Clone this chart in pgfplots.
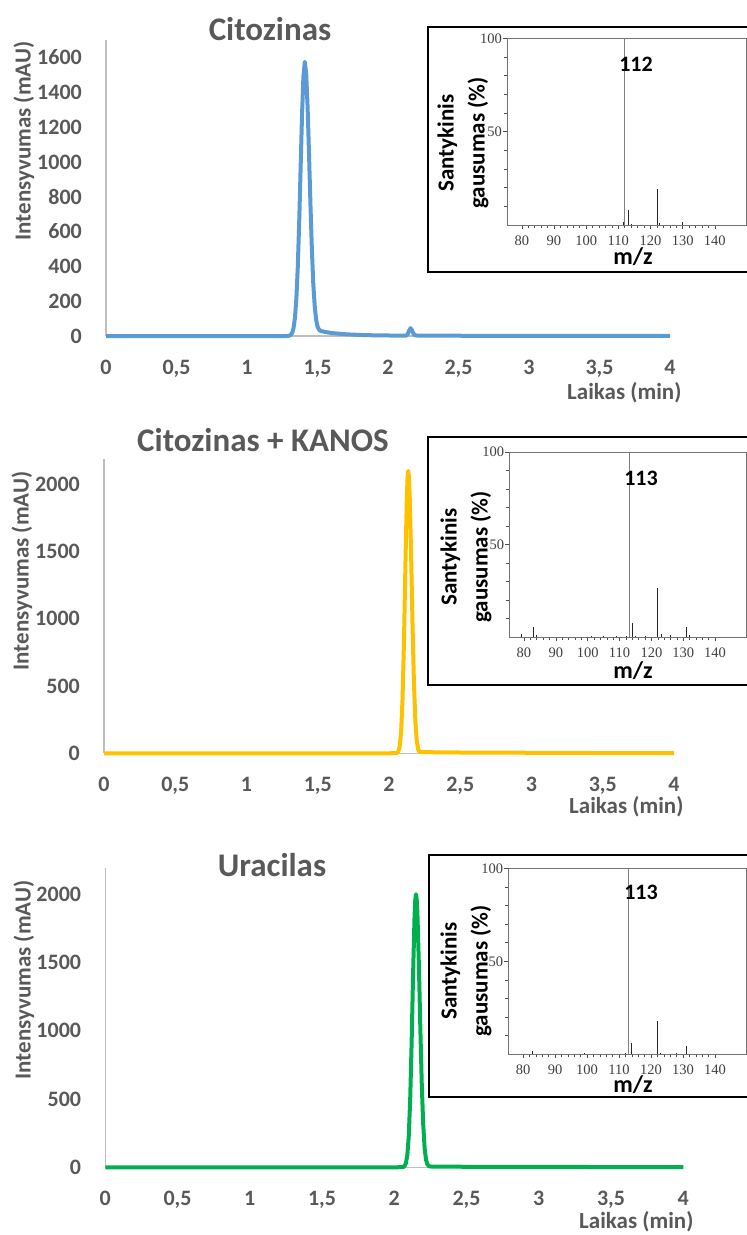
\documentclass[border=0pt]{standalone}
\usepackage{pgfplots}
\pgfplotsset{compat=1.18}
\usepackage{fontspec}
\setmainfont{Carlito}
\newfontfamily\serifft{Liberation Serif}
\definecolor{txtgray}{HTML}{595959}
\definecolor{axgray}{HTML}{BFBFBF}
\definecolor{cblue}{HTML}{5B9BD5}
\definecolor{cyel}{HTML}{FFC000}
\definecolor{cgreen}{HTML}{00B050}
\pgfplotsset{
  chrom/.style={
    scale only axis, anchor=south west, clip=false,
    axis x line*=bottom, axis y line*=left,
    axis line style={axgray, line width=1.3pt},
    xmin=0, xmax=4, ymin=0,
    xtick={0,0.5,1,1.5,2,2.5,3,3.5,4},
    xticklabels={0,{0,5},1,{1,5},2,{2,5},3,{3,5},4},
    major tick length=0pt, minor tick length=0pt,
    tick label style={font=\fontsize{22}{24}\selectfont\bfseries, text=txtgray, inner sep=0pt},
    xticklabel style={anchor=base, yshift=-38pt},
    yticklabel style={anchor=east, xshift=-24pt},
  },
  ms/.style={
    scale only axis, anchor=south west, clip=false,
    xmin=75.4, xmax=149.7, ymin=0, ymax=100,
    axis line style={draw=black!55, line width=0.8pt},
    xtick={80,90,...,140}, minor x tick num=4,
    ytick={50,100}, minor ytick={10,20,30,40,60,70,80,90},
    tick align=outside, xtick pos=bottom, ytick pos=left,
    major tick length=4pt, minor tick length=3pt,
    tick style={black!70, line width=0.5pt},
    /pgf/number format/assume math mode=true,
    tick label style={font=\serifft\fontsize{14.5}{16}\selectfont, text=black!75, inner sep=0pt},
    xticklabel style={anchor=base, yshift=-16pt},
    yticklabel style={anchor=east, xshift=-1pt},
  },
  mainpk/.style={ycomb, black!50, line width=1.1pt, mark=none},
  minpk/.style={ycomb, black!85, line width=0.6pt, mark=none},
}
\begin{document}
\begin{tikzpicture}[x=1pt,y=1pt]
\useasboundingbox (0,0) rectangle (747,-1235);

% ---------------- Panel 1 ----------------
\begin{axis}[chrom, at={(106pt,-336pt)}, width=564pt, height=296pt, ymax=1700,
  ytick={0,200,400,600,800,1000,1200,1400,1600},
  yticklabels={0,200,400,600,800,1000,1200,1400,1600}]
\addplot[cblue, line width=4pt, line join=round] coordinates {
(0,0) (0.5,0) (1,0) (1.28,0) (1.29,0.5) (1.30,2) (1.31,6) (1.32,17) (1.33,45)
(1.34,104) (1.35,213) (1.36,393) (1.37,647) (1.38,956) (1.39,1261) (1.40,1490)
(1.41,1575) (1.42,1504) (1.43,1310) (1.44,1042) (1.45,756) (1.46,500) (1.47,301)
(1.48,175) (1.49,95) (1.50,55) (1.51,38) (1.52,30) (1.55,24) (1.60,17) (1.70,10)
(1.80,6) (1.90,4) (2.00,3) (2.10,2) (2.13,2) (2.14,12) (2.15,32) (2.16,45)
(2.17,34) (2.18,14) (2.19,5) (2.21,2) (2.5,1.5) (3,1) (3.5,1) (4,1)};
\end{axis}

% ---------------- Panel 2 ----------------
\begin{axis}[chrom, at={(104pt,-753.3pt)}, width=570pt, height=294pt, ymax=2186,
  ytick={0,500,1000,1500,2000}, yticklabels={0,500,1000,1500,2000}]
\addplot[cyel, line width=4pt, line join=round] coordinates {
(0,0) (0.5,0) (1,0) (1.5,0) (2,0) (2.045,2) (2.055,3) (2.065,13) (2.075,51)
(2.085,159) (2.095,402) (2.105,829) (2.115,1389) (2.125,1894) (2.130,2046)
(2.135,2100) (2.140,2055) (2.145,1925) (2.155,1485) (2.165,962) (2.175,524)
(2.185,240) (2.195,92) (2.205,30) (2.215,12) (2.225,8) (2.3,8) (2.5,6)
(3,4) (3.5,2) (4,2)};
\end{axis}

% ---------------- Panel 3 ----------------
\begin{axis}[chrom, at={(105.3pt,-1167.3pt)}, width=578pt, height=299pt, ymax=2190,
  ytick={0,500,1000,1500,2000}, yticklabels={0,500,1000,1500,2000}]
\addplot[cgreen, line width=4pt, line join=round] coordinates {
(0,0) (0.5,0) (1,0) (1.5,0) (2,0) (2.05,1) (2.06,2) (2.07,8) (2.08,29) (2.09,88)
(2.10,228) (2.11,498) (2.12,916) (2.13,1414) (2.14,1834) (2.145,1957)
(2.15,2000) (2.155,1963) (2.16,1857) (2.17,1488) (2.18,1028) (2.19,613)
(2.20,315) (2.21,139) (2.22,53) (2.23,20) (2.24,8) (2.26,5) (2.5,4)
(3,3) (3.5,2) (4,2)};
\end{axis}

% ---------------- Insets ----------------
\draw[black, line width=1.2pt] (428,-27) rectangle (748,-272);
\begin{axis}[ms, at={(507pt,-225pt)}, width=239pt, height=186.7pt]
\addplot[minpk] coordinates {(111.6,1.5) (113,8.2) (114,0.6) (122,19.4) (122.7,1) (130,1.8)};
\addplot[mainpk] coordinates {(112,100)};
\end{axis}

\draw[black, line width=1.2pt] (428,-437) rectangle (748,-685);
\begin{axis}[ms, at={(509.3pt,-637pt)}, width=236.7pt, height=185pt]
\addplot[minpk] coordinates {(79.2,1.8) (83,5.3) (84,1) (101,0.5) (105,0.5) (109,0.5) (112,0.8)
 (114,7.7) (115,0.8) (118,0.5) (122,26.3) (123,1.5) (126,1) (131,5.5) (132,1)};
\addplot[mainpk] coordinates {(113,100)};
\end{axis}

\draw[black, line width=1.2pt] (429,-855) rectangle (748,-1097);
\begin{axis}[ms, at={(508.3pt,-1054pt)}, width=237.7pt, height=185.5pt]
\addplot[minpk] coordinates {(83,1.8) (99,0.5) (112,0.8) (114,5.8) (122,17.8) (123,0.5) (128,0.5) (131,4.2)};
\addplot[mainpk] coordinates {(113,100)};
\end{axis}

% ---------------- Texts ----------------
\begin{scope}[every node/.style={text=txtgray, font=\bfseries}]
\node[font=\fontsize{33}{36}\selectfont\bfseries] at (270,-28.7) {Citozinas};
\node[font=\fontsize{33}{36}\selectfont\bfseries] at (263,-440) {Citozinas + KANOS};
\node[font=\fontsize{33}{36}\selectfont\bfseries] at (272,-865) {Uracilas};
\node[rotate=90, font=\fontsize{23}{26}\selectfont\bfseries] at (24,-141) {Intensyvumas (mAU)};
\node[rotate=90, font=\fontsize{23}{26}\selectfont\bfseries] at (22,-571) {Intensyvumas (mAU)};
\node[rotate=90, font=\fontsize{23}{26}\selectfont\bfseries] at (24,-980) {Intensyvumas (mAU)};
\node[anchor=east, font=\fontsize{23}{26}\selectfont\bfseries] at (685,-393) {Laikas (min)};
\node[anchor=east, font=\fontsize{23}{26}\selectfont\bfseries] at (687,-807) {Laikas (min)};
\node[anchor=east, font=\fontsize{23}{26}\selectfont\bfseries] at (697,-1222) {Laikas (min)};
\end{scope}

\begin{scope}[every node/.style={text=black}]
\node[rotate=90, align=center, font=\fontsize{23}{31}\selectfont\bfseries] at (463,-143) {Santykinis\\gausumas (\%)};
\node[rotate=90, align=center, font=\fontsize{23}{31}\selectfont\bfseries] at (466,-557) {Santykinis\\gausumas (\%)};
\node[rotate=90, align=center, font=\fontsize{23}{31}\selectfont\bfseries] at (466,-971) {Santykinis\\gausumas (\%)};
\node[font=\fontsize{24}{26}\selectfont\bfseries] at (633,-257) {m/z};
\node[font=\fontsize{24}{26}\selectfont\bfseries] at (633,-671) {m/z};
\node[font=\fontsize{24}{26}\selectfont\bfseries] at (633,-1085) {m/z};
\node[font=\fontsize{22}{24}\selectfont\bfseries] at (636,-64) {112};
\node[font=\fontsize{22}{24}\selectfont\bfseries] at (641,-478) {113};
\node[font=\fontsize{22}{24}\selectfont\bfseries] at (641,-892) {113};
\end{scope}
\end{tikzpicture}
\end{document}
